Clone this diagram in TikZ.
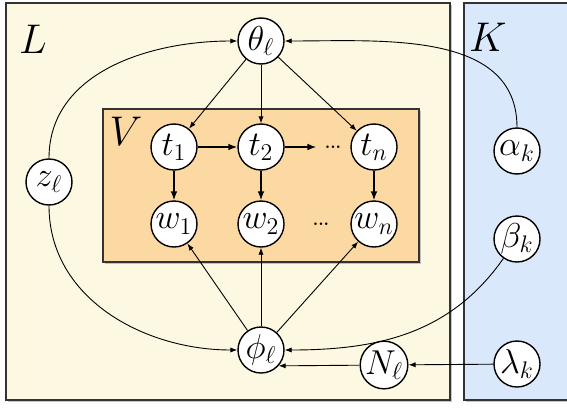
\documentclass[tikz,border=0pt]{standalone}
\usepackage{amsmath,amssymb}
\usepackage{tikz}
\usetikzlibrary{arrows.meta,positioning,shadows}
\definecolor{platel}{HTML}{FDF8E2}
\definecolor{platek}{HTML}{D9E8FB}
\definecolor{platev}{HTML}{FCD9A3}
\definecolor{rim}{HTML}{333333}

\begin{document}
\begin{tikzpicture}[x=0.5pt, y=-0.5pt, >={Latex[length=3.5pt,width=2.6pt]},
  rv/.style={circle, draw=black, fill=white, line width=0.7pt, minimum size=23pt,
             inner sep=0pt, font=\LARGE},
  plate/.style={draw=rim, line width=0.9pt, drop shadow={shadow xshift=1.2pt,
             shadow yshift=-1.2pt, opacity=0.45}},
  lbl/.style={font=\huge},
  dots/.style={font=\footnotesize\bfseries, inner sep=4pt},
  thin/.style={->, line width=0.45pt},
  thick/.style={->, line width=0.8pt, >={Latex[length=4.5pt,width=3.4pt]}}]
  \useasboundingbox (0,0) rectangle (567,407);
  % plates
  \path[plate, fill=platel] (6,3) rectangle (450,400);
  \path[plate, fill=platek] (464,3) rectangle (580,400);
  \path[plate, fill=platev, line width=0.7pt] (103,109) rectangle (419,262);
  \node[lbl] (lL) at (33,39) {$L$};
  \node[lbl] (lK) at (488,37) {$K$};
  \node[lbl] (lV) at (126,131) {$V$};
  % variables
  \node[rv] (theta) at (261,41) {$\theta_\ell$};
  \node[rv] (t1) at (174,147) {$t_1$};
  \node[rv] (t2) at (261,147) {$t_2$};
  \node[rv] (tn) at (374,147) {$t_n$};
  \node[dots] (tdots) at (333,147) {...};
  \node[rv] (w1) at (174,224) {$w_1$};
  \node[rv] (w2) at (261,224) {$w_2$};
  \node[rv] (wn) at (374,224) {$w_n$};
  \node[dots] (wdots) at (321,224) {...};
  \node[rv] (z) at (49,182) {$z_\ell$};
  \node[rv] (phi) at (261,350) {$\phi_\ell$};
  \node[rv] (N) at (384,365) {$N_\ell$};
  \node[rv] (alpha) at (517,151) {$\alpha_k$};
  \node[rv] (beta) at (517,239) {$\beta_k$};
  \node[rv] (lambda) at (517,364) {$\lambda_k$};
  % edges
  \draw[thin] (theta) -- (t1);
  \draw[thin] (theta) -- (t2);
  \draw[thin] (theta) -- (tn);
  \draw[thick] (t1) -- (t2);
  \draw[thick] (t2) -- (tdots);
  \draw[thick] (t1) -- (w1);
  \draw[thick] (t2) -- (w2);
  \draw[thick] (tn) -- (wn);
  \draw[thin] (phi) -- (w1);
  \draw[thin] (phi) -- (w2);
  \draw[thin] (phi) -- (wn);
  \draw[thin] (z) to[out=90, in=180] (theta);
  \draw[thin] (z) to[out=-90, in=180] (phi);
  \draw[thin] (alpha) to[out=90, in=0] (theta);
  \draw[thin] (beta) to[out=-125, in=0] (phi);
  \draw[thin] (lambda) -- (N);
  \draw[thin] (N) -- (phi.-42);
\end{tikzpicture}
\end{document}
